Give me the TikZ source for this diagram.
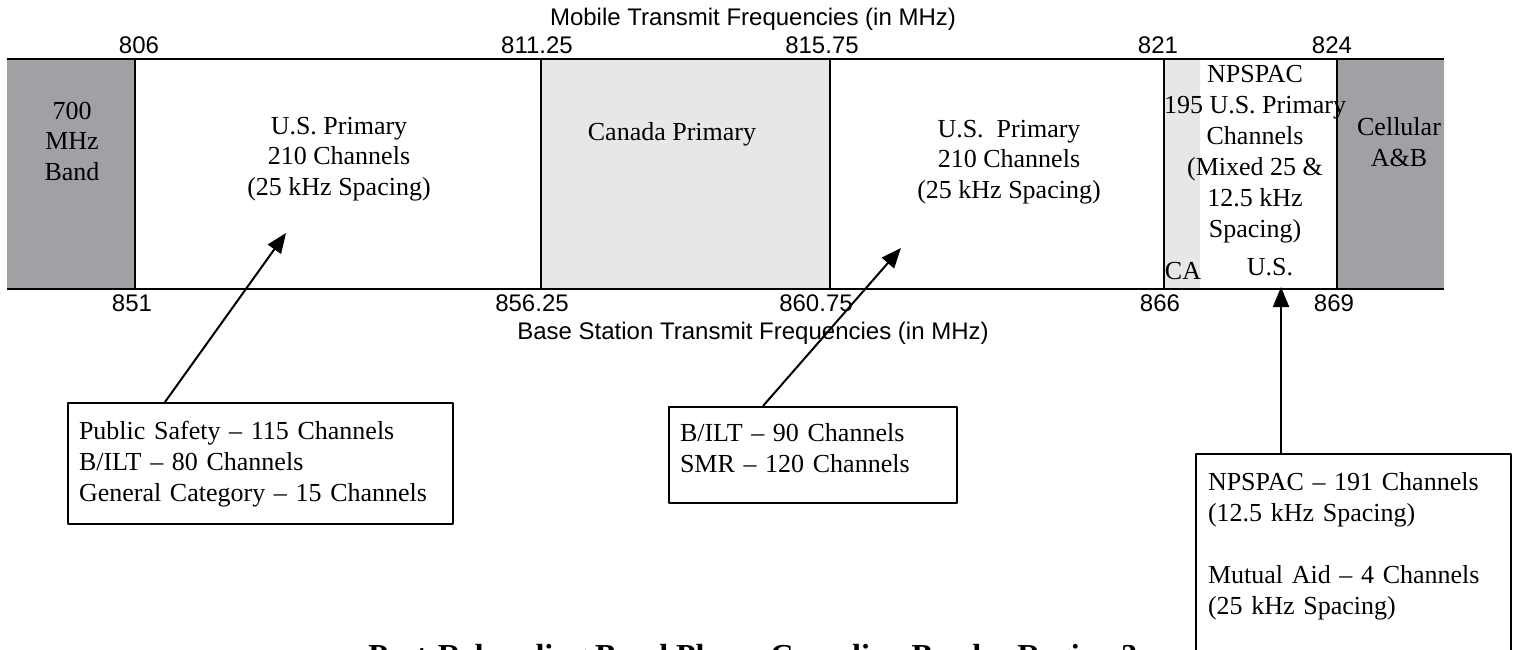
\documentclass[tikz,border=0pt]{standalone}
\usepackage{fontspec}
\setmainfont{Liberation Serif}
\newfontfamily\labelfont{Liberation Sans}
\usetikzlibrary{arrows.meta}
\definecolor{bandgray}{HTML}{A0A1A5}
\definecolor{cagray}{HTML}{E6E7E9}
\tikzset{
	freq/.style={font=\labelfont\fontsize{24}{28}\selectfont,inner sep=0pt},
	bandtext/.style={align=center,inner sep=0pt,font=\fontsize{26}{30.5}\selectfont},
	infobox/.style={draw,line width=2pt,align=left,inner ysep=0pt,anchor=base west,font=\fontsize{26}{31}\selectfont},
	pointer/.style={line width=2pt,-{Triangle[length=20pt,width=16pt]}}
}
\begin{document}
\begin{tikzpicture}[x=1pt,y=-1pt,line join=round]
		\useasboundingbox (0,0) rectangle (1518,649);
		\fill[bandgray] (7,59) rectangle (135,289) (1337,59) rectangle (1444,289);
		\fill[cagray] (541,59) rectangle (830,289) (1164,59) rectangle (1200,289);
		\draw[line width=2.5pt] (7,59)--(1444,59) (7,289)--(1444,289);
		\foreach \x in {135,541,830,1164,1337}\draw[line width=2pt] (\x,59)--(\x,289);
		\foreach \x/\f [count=\i] in {139/806,537/811.25,822/815.75,1158/821,1332/824}\node[freq] (mob\i) at (\x,45) {\f};
		\foreach \x/\f [count=\i] in {132/851,532/856.25,816/860.75,1160/866,1334/869}\node[freq] (base\i) at (\x,303.5) {\f};
		\node[freq] (mobtitle) at (753,19) {Mobile Transmit Frequencies (in MHz)};
		\node[freq] (basetitle) at (753,333) {Base Station Transmit Frequencies (in MHz)};
		% bands
		\node[bandtext] (band700) at (72,141) {700\\MHz\\Band};
		\node[bandtext] (usleft) at (339,159) {U.S. Primary\\210 Channels\\(25 kHz Spacing)};
		\node[bandtext] (canada) at (672,134) {Canada Primary};
		\node[bandtext] (usright) at (1009,162) {U.S.~ Primary\\210 Channels\\(25 kHz Spacing)};
		\node[bandtext,font=\fontsize{26}{31}\selectfont] (npspac) at (1255,154) {NPSPAC\\195 U.S. Primary\\Channels\\(Mixed 25 \&\\12.5 kHz\\Spacing)};
		\node[bandtext] (ca) at (1183,271) {CA};
		\node[bandtext] (us) at (1270,267) {U.S.};
		\node[bandtext] (cellular) at (1399,142) {Cellular\\A\&B};
		% boxes
		\node[infobox,text width=363pt,inner xsep=11pt,text height=36pt,text depth=85pt] (ps) at (67,439) {Public Safety \textendash{} 115 Channels\\B/ILT \textendash{} 80 Channels\\General Category \textendash{} 15 Channels};
		\node[infobox,text width=266pt,inner xsep=11pt,text height=34pt,text depth=62pt] (smr) at (668,441) {B/ILT \textendash{} 90 Channels\\SMR \textendash{} 120 Channels};
		\node[infobox,text width=291pt,inner xsep=12pt,text height=36pt,text depth=210pt] (npc) at (1195,490) {NPSPAC \textendash{} 191 Channels\\(12.5 kHz Spacing)\\[31pt]Mutual Aid \textendash{} 4 Channels\\(25 kHz Spacing)};
		\coordinate (t1) at (286,233);
		\coordinate (t2) at (901,248);
		\coordinate (t3) at (1281,287);
		\draw[pointer] ([xshift=98pt]ps.north west) -- (t1);
		\draw[pointer] ([xshift=95pt]smr.north west) -- (t2);
		\draw[pointer] ([xshift=86pt]npc.north west) -- (t3);
		\node[anchor=base,inner sep=0pt,font=\bfseries\fontsize{32}{38}\selectfont] (caption) at (753,666) {Post-Rebanding Band Plan \textendash{} Canadian Border Region 3};
\end{tikzpicture}
\end{document}
